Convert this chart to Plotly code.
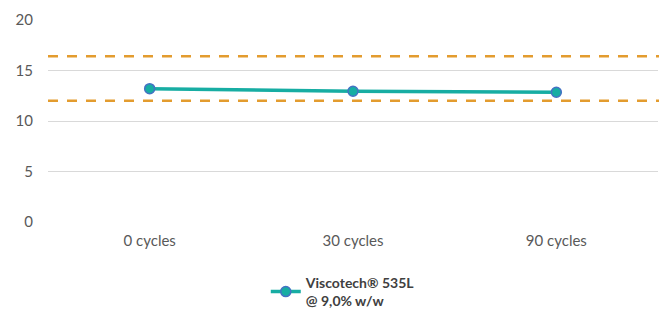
import plotly.graph_objects as go

categories = ["0 cycles", "30 cycles", "90 cycles"]
values = [13.2, 12.95, 12.85]
series_name = "<b>Viscotech® 535L<br>@ 9,0% w/w</b>"
upper_limit = 16.4
lower_limit = 12.0
y_ticks = [0, 5, 10, 15, 20]

fig = go.Figure()
fig.add_trace(go.Scatter(
    x=categories, y=values, mode="lines+markers", name=series_name,
    line=dict(color="#17ADA3", width=3.5),
    marker=dict(size=10, color="#17ADA3", line=dict(color="#4472C4", width=1.5)),
))
for v in (upper_limit, lower_limit):
    fig.add_shape(type="line", xref="paper", yref="y", x0=0, x1=1.03, y0=v, y1=v,
                  line=dict(color="#E39C2F", width=2.5, dash="10px,9px"), layer="above")

fig.update_layout(
    width=659, height=301,
    margin=dict(l=40, r=9, t=12, b=87, autoexpand=False),
    paper_bgcolor="white", plot_bgcolor="white",
    font=dict(family="Lato, Open Sans, sans-serif", size=15, color="#595959"),
    showlegend=True,
    legend=dict(orientation="h", x=0.357, xanchor="left", xref="paper",
                yref="container", y=0.14, yanchor="top", tracegroupgap=0,
                font=dict(size=14, color="#404040")),
    xaxis=dict(showgrid=False, showline=False, ticks="", zeroline=False,
               range=[-0.5, 2.5], automargin=False, ticklabelstandoff=8),
    yaxis=dict(range=[0, 20], tickvals=y_ticks, showgrid=True, gridcolor="#D9D9D9",
               gridwidth=1, zeroline=False, showline=False, ticks="", ticklen=0,
               ticklabelstandoff=14, automargin=False),
)
fig.write_html("out.html")
